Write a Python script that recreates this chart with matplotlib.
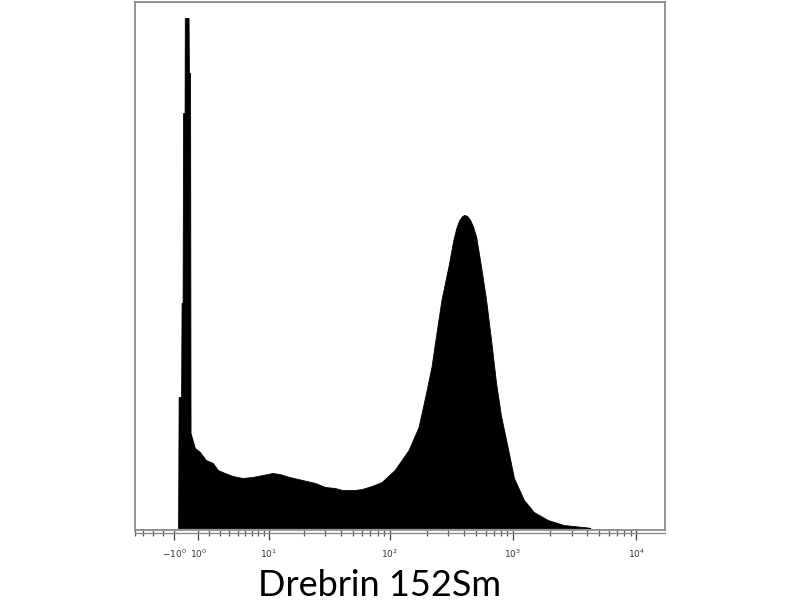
import numpy as np
import matplotlib
matplotlib.use("Agg")
import matplotlib.pyplot as plt
from matplotlib.lines import Line2D

# === Histogram ===
# x: arcsinh(intensity / 4.5) channel, y: event count (arbitrary units)
chan = [-0.153, -0.143, -0.097, -0.088, -0.069, -0.060, -0.032, -0.028,
        0.042, 0.048, 0.070, 0.079, 0.160, 0.254, 0.365, 0.495, 0.588,
        0.718, 0.866, 1.052, 1.237, 1.423, 1.609, 1.738, 1.924, 2.165,
        2.406, 2.592, 2.777, 2.907, 3.148, 3.278, 3.464, 3.649, 3.890,
        4.150, 4.336, 4.447, 4.577, 4.670, 4.763, 4.892, 4.985, 5.041,
        5.096, 5.152, 5.189, 5.245, 5.300, 5.356, 5.412, 5.504, 5.597,
        5.690, 5.783, 5.876, 6.006, 6.117, 6.303, 6.488, 6.748, 7.045,
        7.490, 7.545]
counts = [0, 131, 131, 225, 225, 415, 415, 510,
          510, 455, 455, 95, 80, 76, 68, 65, 58,
          55, 52, 50, 51, 53, 55, 54, 51, 48,
          45, 41, 40, 38, 38, 39, 42, 46, 58,
          78, 101, 128, 161, 195, 228, 261, 288, 300,
          308, 312, 313, 312, 308, 301, 291, 261, 228,
          188, 145, 112, 79, 50, 28, 16, 8, 3,
          0.5, 0]

cofactor = 4.5
major_vals = [-1, 1, 10, 100, 1000, 10000]
major_labels = [r"$-10^{0}$", r"$10^{0}$", r"$10^{1}$", r"$10^{2}$",
                r"$10^{3}$", r"$10^{4}$"]
minor_vals = [-5, -4, -3, -2] + [m * 10 ** d for d in range(4) for m in range(2, 10)]

def to_chan(v):
    return np.arcsinh(np.asarray(v, dtype=float) / cofactor)

# === Figure ===
fig = plt.figure(figsize=(8, 6), dpi=100)
ax = fig.add_axes([135 / 800, 70 / 600, 530 / 800, 528 / 600])

ax.fill_between(chan, counts, 0, color="black", linewidth=0.6, edgecolor="black")

ax.set_xlim(-0.896, 8.937)
ax.set_ylim(-2, 526)

ax.set_xticks(to_chan(major_vals))
ax.set_xticklabels(major_labels)
ax.set_xticks(to_chan(minor_vals), minor=True)
ax.set_yticks([])

ax.tick_params(axis="x", which="major", direction="out", length=7, width=0.9,
               color="#444444", labelsize=6.5, labelcolor="#333333", pad=6)
ax.tick_params(axis="x", which="minor", direction="out", length=4, width=0.9,
               color="#555555")

for s in ax.spines.values():
    s.set_color("#8a8a8a")
    s.set_linewidth(1.3)

# second line under the frame bottom
ax.add_line(Line2D([0, 1], [-3.0 / 528, -3.0 / 528], transform=ax.transAxes,
                   color="#8a8a8a", linewidth=1.0, clip_on=False))

fig.text(380 / 800, 1 - 585 / 600, "Drebrin 152Sm", fontsize=26, family="Lato",
         ha="center", va="center", color="black")

fig.savefig("out.png", dpi=100)
